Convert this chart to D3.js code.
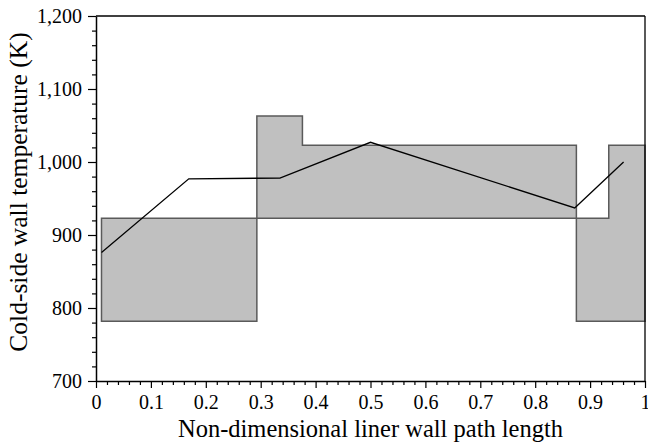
<!DOCTYPE html>
<html>
  <head>
    <meta charset="UTF-8">
    <title>Cold-side wall temperature</title>
    <script src="https://d3js.org/d3.v7.min.js"></script>
    <style>
      body { margin: 0; background: #fff; }
      svg text { font-family: "Liberation Serif", "DejaVu Serif", "Times New Roman", serif; fill: #000; }
    </style>
  </head>
  <body>
    <div id="chart"></div>
    <script>
      // band of allowed temperatures (step after each x break)
      const bandX = [0.01, 0.293, 0.376, 0.875, 0.934, 1.0];
      const bandLow = [782, 923, 923, 782, 782, 782];
      const bandHigh = [923, 1063, 1023, 923, 1023, 1023];

      // computed cold-side wall temperature
      const lineX = [0.01, 0.169, 0.335, 0.5, 0.872, 0.961];
      const lineY = [876, 977, 978, 1027, 937, 1000];

      const xTicks = [0, 0.1, 0.2, 0.3, 0.4, 0.5, 0.6, 0.7, 0.8, 0.9, 1];
      const xTickLabels = ["0", "0.1", "0.2", "0.3", "0.4", "0.5", "0.6", "0.7", "0.8", "0.9", "1"];
      const yTicks = [700, 800, 900, 1000, 1100, 1200];
      const yTickLabels = ["700", "800", "900", "1,000", "1,100", "1,200"];

      const width = 648;
      const height = 445;
      const margin = {top: 16, right: 3, bottom: 64, left: 96};

      const svg = d3.select("#chart")
        .append("svg")
        .attr("width", width)
        .attr("height", height);

      const x = d3.scaleLinear().domain([0, 1]).range([margin.left, width - margin.right]);
      const y = d3.scaleLinear().domain([700, 1200]).range([height - margin.bottom, margin.top]);

      // shaded band
      const band = bandX.map((d, i) => ({x: d, lo: bandLow[i], hi: bandHigh[i]}));
      const area = d3.area()
        .curve(d3.curveStepAfter)
        .x(d => x(d.x))
        .y0(d => y(d.lo))
        .y1(d => y(d.hi));

      svg.append("path")
        .datum(band)
        .attr("d", area)
        .attr("fill", "#c0c0c0")
        .attr("stroke", "#5a5a5a")
        .attr("stroke-width", 1.5);

      // temperature line
      const pts = lineX.map((d, i) => [d, lineY[i]]);
      svg.append("path")
        .datum(pts)
        .attr("d", d3.line().x(d => x(d[0])).y(d => y(d[1])))
        .attr("fill", "none")
        .attr("stroke", "#000")
        .attr("stroke-width", 1.3);

      // frame top and right
      svg.append("line")
        .attr("x1", x(0)).attr("x2", x(1))
        .attr("y1", y(1200)).attr("y2", y(1200))
        .attr("stroke", "#000").attr("stroke-width", 1.3);
      svg.append("line")
        .attr("x1", x(1)).attr("x2", x(1))
        .attr("y1", y(1200)).attr("y2", y(700))
        .attr("stroke", "#000").attr("stroke-width", 1.3);

      // minor ticks
      const xMinor = d3.range(0, 1.0001, 0.02).filter(v => Math.abs(v * 10 - Math.round(v * 10)) > 1e-6);
      const yMinor = d3.range(700, 1201, 20).filter(v => v % 100 !== 0);

      svg.append("g")
        .attr("transform", `translate(0,${y(700)})`)
        .call(d3.axisBottom(x).tickValues(xMinor).tickSize(4).tickFormat(""))
        .call(g => g.select(".domain").remove());

      svg.append("g")
        .attr("transform", `translate(${x(0)},0)`)
        .call(d3.axisLeft(y).tickValues(yMinor).tickSize(4).tickFormat(""))
        .call(g => g.select(".domain").remove());

      // major axes
      svg.append("g")
        .attr("transform", `translate(0,${y(700)})`)
        .call(d3.axisBottom(x)
          .tickValues(xTicks)
          .tickSize(7)
          .tickSizeOuter(0)
          .tickPadding(7)
          .tickFormat((d, i) => xTickLabels[i]));

      svg.append("g")
        .attr("transform", `translate(${x(0)},0)`)
        .call(d3.axisLeft(y)
          .tickValues(yTicks)
          .tickSize(8)
          .tickSizeOuter(0)
          .tickPadding(6)
          .tickFormat((d, i) => yTickLabels[i]));

      svg.selectAll(".tick line").attr("stroke", "#000").attr("stroke-width", 1.2);
      svg.selectAll(".domain").attr("stroke", "#000").attr("stroke-width", 1.5);
      svg.selectAll(".tick text")
        .style("font-family", "'Liberation Serif', 'DejaVu Serif', serif")
        .style("font-size", "20px")
        .style("fill", "#000");

      // axis titles
      svg.append("text")
        .attr("x", (x(0) + x(1)) / 2)
        .attr("y", 437)
        .attr("text-anchor", "middle")
        .style("font-size", "24.5px")
        .text("Non-dimensional liner wall path length");

      svg.append("text")
        .attr("transform", "translate(27,192) rotate(-90)")
        .attr("text-anchor", "middle")
        .style("font-size", "25.5px")
        .text("Cold-side wall temperature (K)");
    </script>
  </body>
</html>
